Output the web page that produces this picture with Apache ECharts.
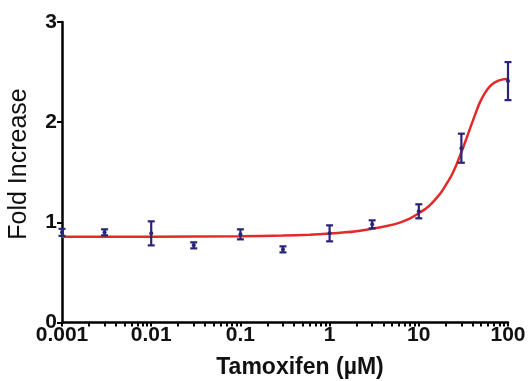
<!DOCTYPE html>
<html>
<head>
<meta charset="utf-8">
<script src="https://cdn.jsdelivr.net/npm/echarts@6/dist/echarts.min.js"></script>
<style>html,body{margin:0;padding:0;background:#fff}#c{width:530px;height:381px}</style>
</head>
<body>
<div id="c"></div>
<script>
// Measured points
const concentrations = [0.001, 0.003, 0.01, 0.03, 0.1, 0.3, 1, 3, 10, 30, 100];
const foldMean = [0.90, 0.90, 0.89, 0.77, 0.88, 0.73, 0.89, 0.98, 1.11, 1.74, 2.41];
const foldErr = [0.035, 0.03, 0.12, 0.03, 0.05, 0.03, 0.08, 0.04, 0.07, 0.145, 0.19];
// Fitted curve
const fitX = [0.001, 0.01, 0.1, 0.3, 0.6, 1, 1.5, 2, 3, 4.5, 6, 8, 10, 12.5, 15, 17.5, 20, 23, 26, 30, 34, 38, 43, 48, 55, 63, 72, 85, 100];
const fitY = [0.856, 0.857, 0.862, 0.868, 0.877, 0.888, 0.900, 0.912, 0.935, 0.965, 0.995, 1.04, 1.09, 1.15, 1.22, 1.29, 1.37, 1.46, 1.56, 1.70, 1.83, 1.95, 2.08, 2.19, 2.29, 2.36, 2.40, 2.425, 2.43];
// Axis ticks
const xMajorTicks = [0.001, 0.01, 0.1, 1, 10, 100];
const xTickLabels = ['0.001', '0.01', '0.1', '1', '10', '100'];
const xMinorMultipliers = [2, 3, 4, 5, 6, 7, 8, 9];
const yTicks = [0, 1, 2, 3];
const xTitle = 'Tamoxifen (µM)';
const yTitle = 'Fold Increase';

const xAllTicks = [];
xMajorTicks.forEach((m, i) => {
  xAllTicks.push(m);
  if (i < xMajorTicks.length - 1) xMinorMultipliers.forEach(k => xAllTicks.push(+(m * k).toPrecision(3)));
});

const FONT = '"Liberation Sans", Arial, sans-serif';
const chart = echarts.init(document.getElementById('c'), null, {renderer: 'canvas'});
const pts = concentrations.map((c, i) => [c, foldMean[i], foldErr[i]]);

chart.setOption({
  animation: false,
  backgroundColor: '#fff',
  grid: {left: 62, right: 22, top: 22, bottom: 58.5},
  xAxis: {
    type: 'log', logBase: 10, min: 0.001, max: 100,
    axisLine: {lineStyle: {color: '#000', width: 2.5}},
    axisTick: {show: true, length: 4, customValues: xAllTicks, lineStyle: {color: '#000', width: 2}},
    minorTick: {show: false},
    splitLine: {show: false},
    axisLabel: {
      customValues: xMajorTicks, margin: 2,
      formatter: v => { const i = xMajorTicks.findIndex(m => Math.abs(Math.log10(m) - Math.log10(v)) < 1e-6); return i >= 0 ? xTickLabels[i] : ''; },
      color: '#111', fontFamily: FONT, fontWeight: 'bold', fontSize: 21
    }
  },
  yAxis: {
    type: 'value', min: 0, max: 3, interval: 1,
    axisLine: {show: true, lineStyle: {color: '#000', width: 2.5}},
    axisTick: {show: true, length: 5, lineStyle: {color: '#000', width: 2}},
    splitLine: {show: false},
    axisLabel: {margin: 5, color: '#111', fontFamily: FONT, fontWeight: 'bold', fontSize: 21,
      formatter: v => yTicks.includes(v) ? String(v) : ''}
  },
  graphic: [
    {type: 'text', x: 300, y: 368, style: {text: xTitle, fill: '#111', font: 'bold 23px ' + FONT, textAlign: 'center', textVerticalAlign: 'middle'}},
    {type: 'text', x: 19, y: 164, rotation: Math.PI / 2, style: {text: yTitle, fill: '#111', font: '25px ' + FONT, textAlign: 'center', textVerticalAlign: 'middle'}}
  ],
  series: [
    {
      type: 'line', data: fitX.map((x, i) => [x, fitY[i]]), smooth: 0.25,
      showSymbol: false, lineStyle: {color: '#e32a2a', width: 2.5}, z: 2
    },
    {
      type: 'custom', data: pts, z: 3,
      renderItem: (params, api) => {
        const x = api.value(0), m = api.value(1), e = api.value(2);
        const top = api.coord([x, m + e]), bot = api.coord([x, m - e]), c = api.coord([x, m]);
        const w = 3.5;
        const st = {stroke: '#2a2478', lineWidth: 2.2, fill: null};
        return {type: 'group', children: [
          {type: 'line', shape: {x1: top[0], y1: top[1], x2: bot[0], y2: bot[1]}, style: st},
          {type: 'line', shape: {x1: top[0] - w, y1: top[1], x2: top[0] + w, y2: top[1]}, style: st},
          {type: 'line', shape: {x1: bot[0] - w, y1: bot[1], x2: bot[0] + w, y2: bot[1]}, style: st},
          {type: 'circle', shape: {cx: c[0], cy: c[1], r: 2}, style: {fill: '#2a2478'}}
        ]};
      }
    }
  ]
});
</script>
</body>
</html>
